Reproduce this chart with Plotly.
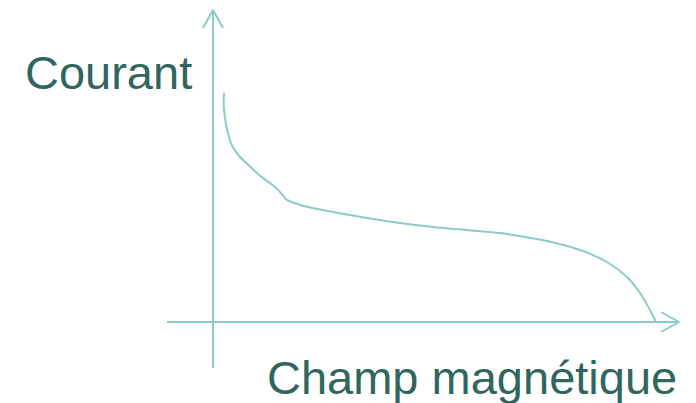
import plotly.graph_objects as go

# Schematic curve: current vs magnetic field (units = arbitrary, origin at axes crossing)
champ = [11, 10.7, 12, 14.7, 18.7, 25.3, 35.3, 48.7, 62, 73.7, 78.7, 88.7, 102, 120, 154, 187,
         220, 254, 287, 300, 334, 367, 394, 414, 427, 437, 443]
courant = [229, 217, 204, 190, 177, 167, 157, 145, 135, 122, 120, 116.5, 113.5, 110, 104, 99,
           95, 92, 89, 87, 81, 72, 60, 45, 29, 12, 0]
kink = 9  # index of the corner in the curve

label_y = "Courant"
label_x = "Champ magnétique"

LINE = "#8DCBC8"
TEXT = "#31665F"

fig = go.Figure()

# axes lines (with open chevron arrowheads)
fig.add_trace(go.Scatter(x=[0, 0], y=[-46, 312], mode="lines",
                         line=dict(color=LINE, width=2), hoverinfo="skip"))
fig.add_trace(go.Scatter(x=[-10, 0, 10], y=[294, 312, 294], mode="lines",
                         line=dict(color=LINE, width=2), hoverinfo="skip"))
fig.add_trace(go.Scatter(x=[-46, 466], y=[0, 0], mode="lines",
                         line=dict(color=LINE, width=2), hoverinfo="skip"))
fig.add_trace(go.Scatter(x=[448, 466, 448], y=[10, 0, -10], mode="lines",
                         line=dict(color=LINE, width=2), hoverinfo="skip"))

# curve, drawn in two smooth pieces that meet at the corner
for sl in (slice(0, kink + 1), slice(kink, None)):
    fig.add_trace(go.Scatter(x=champ[sl], y=courant[sl], mode="lines",
                             line=dict(color=LINE, width=2, shape="spline", smoothing=1),
                             hoverinfo="skip"))

fig.add_annotation(x=-190, y=250, xref="x", yref="y", text=label_y, showarrow=False,
                   xanchor="left", yanchor="middle",
                   font=dict(family="Liberation Sans, Arial", size=47, color=TEXT))
fig.add_annotation(x=52, y=-55, xref="x", yref="y", text=label_x, showarrow=False,
                   xanchor="left", yanchor="middle",
                   font=dict(family="Liberation Sans, Arial", size=47, color=TEXT))

# page body adds an 8px offset, so the figure covers the visible area only
fig.update_layout(
    width=688, height=395,
    margin=dict(l=0, r=0, t=0, b=0),
    paper_bgcolor="white", plot_bgcolor="white",
    showlegend=False,
    xaxis=dict(range=[-205, 483], visible=False, fixedrange=True),
    yaxis=dict(range=[-81, 314], visible=False, fixedrange=True),
)

fig.write_html("out.html")
